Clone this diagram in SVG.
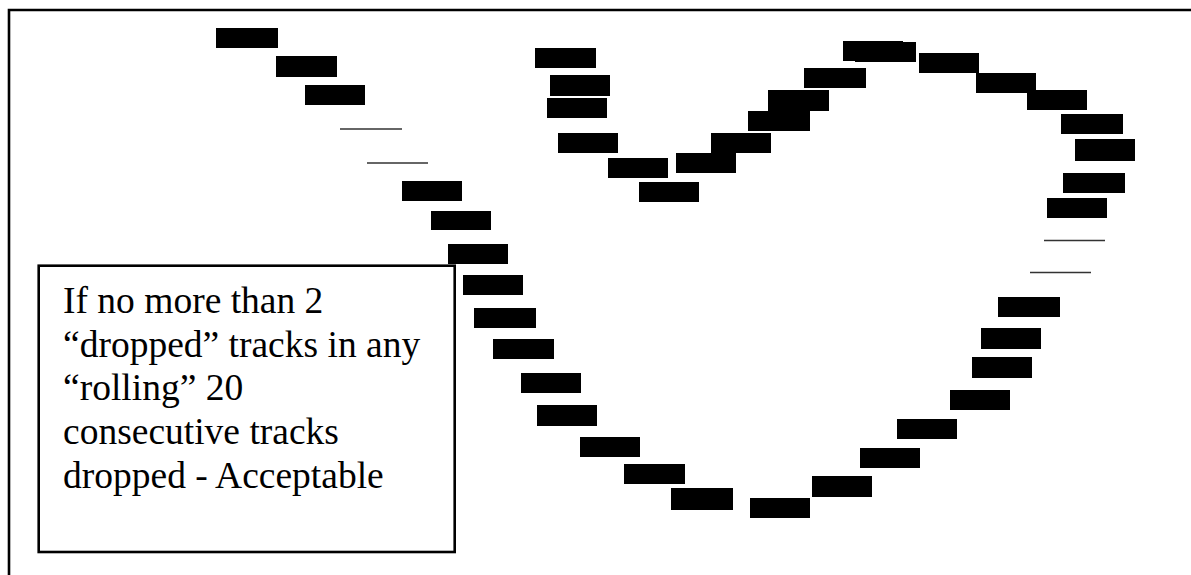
<svg xmlns="http://www.w3.org/2000/svg" width="1191" height="575" viewBox="0 0 1191 575">
<style>
.t{fill:#000}
.gap{stroke:#333;stroke-width:1.6;fill:none}
.frame{stroke:#000;stroke-width:2.6;fill:none}
.lbl{font-family:"Liberation Serif","Times New Roman",serif;font-size:37.5px;fill:#000}
</style>
<rect width="1191" height="575" fill="#fff"/>
<path class="frame" d="M9 575 V10 H1191"/>
<g id="tracks">
<rect class="t" x="216" y="28" width="62" height="20"/>
<rect class="t" x="276" y="56" width="61" height="21"/>
<rect class="t" x="305" y="85" width="60" height="20"/>
<rect class="t" x="402" y="181" width="60" height="20"/>
<rect class="t" x="431" y="211" width="60" height="19"/>
<rect class="t" x="448" y="244" width="60" height="20"/>
<rect class="t" x="463" y="275" width="60" height="20"/>
<rect class="t" x="474" y="308" width="62" height="20"/>
<rect class="t" x="493" y="339" width="61" height="20"/>
<rect class="t" x="521" y="373" width="60" height="20"/>
<rect class="t" x="537" y="405" width="60" height="21"/>
<rect class="t" x="580" y="437" width="60" height="20"/>
<rect class="t" x="624" y="464" width="61" height="20"/>
<rect class="t" x="671" y="488" width="62" height="22"/>
<rect class="t" x="750" y="498" width="60" height="20"/>
<rect class="t" x="812" y="476" width="60" height="21"/>
<rect class="t" x="860" y="448" width="60" height="20"/>
<rect class="t" x="897" y="419" width="60" height="20"/>
<rect class="t" x="950" y="390" width="60" height="20"/>
<rect class="t" x="972" y="357" width="60" height="21"/>
<rect class="t" x="981" y="328" width="60" height="21"/>
<rect class="t" x="998" y="297" width="62" height="20"/>
<rect class="t" x="1047" y="198" width="60" height="20"/>
<rect class="t" x="1063" y="173" width="62" height="20"/>
<rect class="t" x="1075" y="139" width="60" height="22"/>
<rect class="t" x="1061" y="114" width="62" height="20"/>
<rect class="t" x="1027" y="90" width="60" height="20"/>
<rect class="t" x="976" y="73" width="60" height="20"/>
<rect class="t" x="919" y="53" width="60" height="20"/>
<rect class="t" x="843" y="41" width="60" height="20"/>
<rect class="t" x="855" y="42" width="61" height="20"/>
<rect class="t" x="804" y="68" width="62" height="20"/>
<rect class="t" x="768" y="90" width="61" height="21"/>
<rect class="t" x="748" y="111" width="62" height="20"/>
<rect class="t" x="711" y="133" width="60" height="20"/>
<rect class="t" x="676" y="153" width="60" height="20"/>
<rect class="t" x="639" y="182" width="60" height="20"/>
<rect class="t" x="608" y="158" width="60" height="20"/>
<rect class="t" x="558" y="133" width="60" height="20"/>
<rect class="t" x="547" y="98" width="60" height="20"/>
<rect class="t" x="550" y="75" width="60" height="21"/>
<rect class="t" x="535" y="48" width="61" height="20"/>
</g>
<g id="dropped">
<line class="gap" x1="340" y1="129" x2="402" y2="129"/>
<line class="gap" x1="367" y1="163" x2="428" y2="163"/>
<line class="gap" x1="1044" y1="240.5" x2="1105" y2="240.5"/>
<line class="gap" x1="1030" y1="272.5" x2="1091" y2="272.5"/>
</g>
<g id="note">
<rect class="frame" x="38.7" y="265.7" width="416" height="286.3"/>
<text class="lbl" x="63" y="313">If no more than 2</text>
<text class="lbl" x="63" y="357">“dropped” tracks in any</text>
<text class="lbl" x="63" y="400">“rolling” 20</text>
<text class="lbl" x="63" y="443.5">consecutive tracks</text>
<text class="lbl" x="63" y="488">dropped - Acceptable</text>
</g>
</svg>
